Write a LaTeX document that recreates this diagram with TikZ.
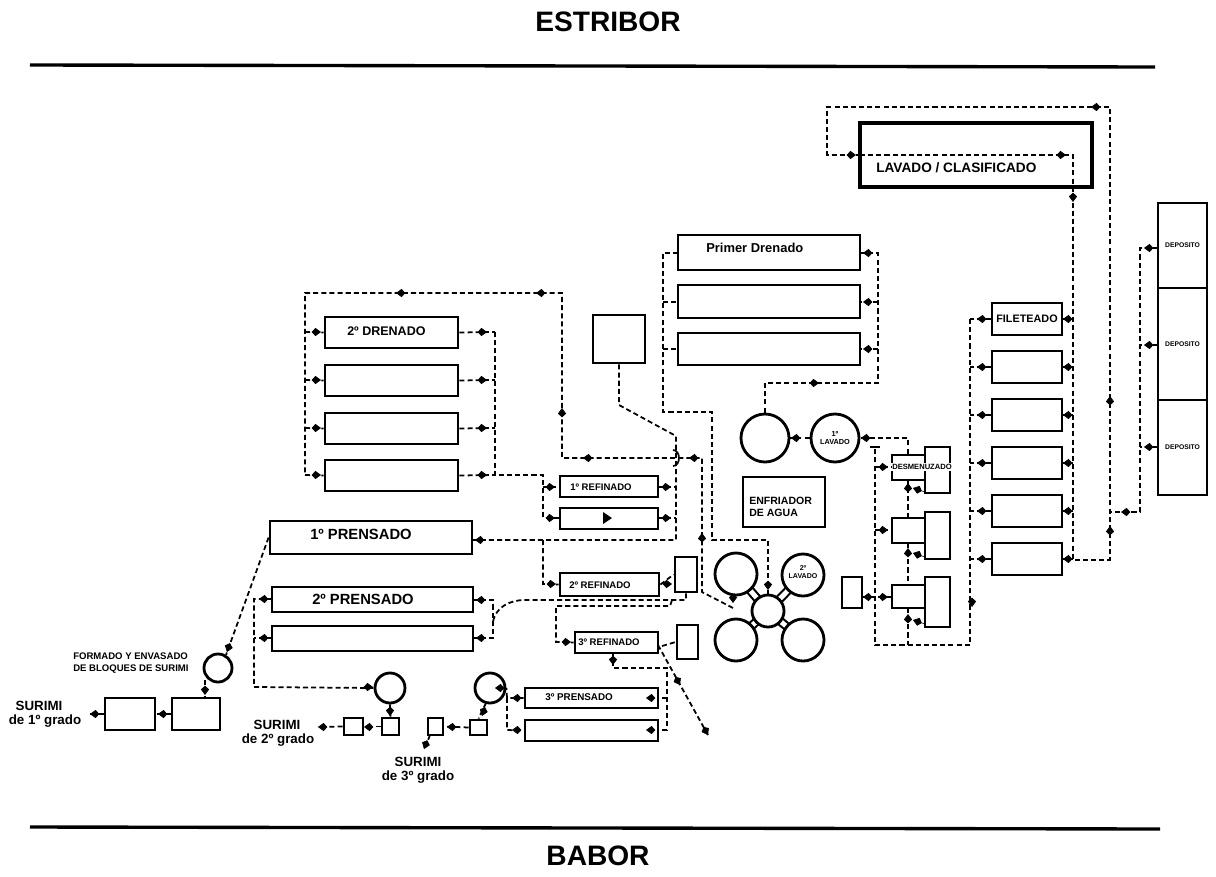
\documentclass[tikz,border=0pt]{standalone}
\usepackage{fontspec}
\setmainfont{Liberation Sans}
\usetikzlibrary{arrows.meta,fit}

\newcommand{\fs}[1]{\fontsize{#1}{\dimexpr #1pt*6/5\relax}\selectfont}
% small diamond tips set on top of the dashed runs
\newcommand{\tR}[1]{\draw[tip] (#1) ++(-4,0) -- ++(8,0);}
\newcommand{\tL}[1]{\draw[tip] (#1) ++(4,0) -- ++(-8,0);}
\newcommand{\tD}[1]{\draw[tip] (#1) ++(0,-4) -- ++(0,8);}
\newcommand{\tU}[1]{\draw[tip] (#1) ++(0,4) -- ++(0,-8);}

\tikzset{
  box/.style={draw, line width=2pt, inner sep=0pt},
  ring/.style={draw, circle, line width=2pt, inner sep=0pt, fill=white},
  flow/.style={line width=1.25pt, dash pattern=on 3.6pt off 2.2pt},
  tip/.style={-{Kite[length=6.6pt,width=5.8pt,inset=2.6pt]}, solid, line width=0.4pt},
  pipe/.style={line width=1.5pt, double, double distance=3.5pt},
  lbl/.style={inner sep=0pt, font=\bfseries\fs{#1}},
}

\begin{document}
\begin{tikzpicture}[x=0.025cm, y=-0.025cm]
  \useasboundingbox (0,0) rectangle (1216,876);

  % --- deck sides ---
  \node[lbl=20] (estribor) at (608,22) {ESTRIBOR};
  \node[lbl=20] (babor) at (598,856) {BABOR};
  \draw[line width=2.4pt] (30,65) -- (1155,67);
  \draw[line width=2.4pt] (30,827) -- (1160,829);

  % --- lavado / clasificado and its loop ---
  \node[box, line width=2.6pt, fit={(860,123) (1092,187)}] (lav) {};
  \node[lbl=9.7, anchor=west] (lavtxt) at (876,168) {LAVADO / CLASIFICADO};
  \draw[flow] (860,155) -- (1073,155) -- (1073,560) -- (1110,560)
    -- (1110,107) -- (827,107) -- (827,155) -- (860,155);
  \tR{852,155} \tR{1062,155} \tD{1073,198} \tU{1110,400} \tU{1110,530} \tL{1095,107}

  % --- depositos ---
  \node[box, fit={(1158,203) (1207,288)}] (dep1) {};
  \node[box, fit={(1158,288) (1207,400)}] (dep2) {};
  \node[box, fit={(1158,400) (1207,495)}] (dep3) {};
  \foreach \d in {dep1,dep2,dep3}
    \node[lbl=4.8] at (\d) {DEPOSITO};
  \draw[flow] (1158,248) -- (1140,248) -- (1140,512) -- (1110,512);
  \draw[flow] (1158,345) -- (1140,345);
  \draw[flow] (1158,447) -- (1140,447);
  \tL{1148,248} \tL{1148,345} \tL{1148,447} \tL{1125,512}

  % --- fileteado ---
  \foreach \i in {1,...,6} {
    \pgfmathsetmacro{\yc}{319+48*(\i-1)}
    \node[box, fit={(992,\yc-16) (1062,\yc+16)}] (fil\i) {};
    \draw[flow] (fil\i.east) -- (1073,\yc);
    \draw[flow] (fil\i.west) -- (970,\yc);
    \tL{1067,\yc} \tL{981,\yc}
  }
  \node[lbl=7.7] at (fil1) {FILETEADO};
  \draw[flow] (970,319) -- (970,645) -- (875,645) -- (875,447);
  \draw[line width=1.2pt] (870,447) -- (880,447);
  \tD{972,603}

  % --- desmenuzado ---
  \node[box, fit={(892,455) (925,480)}] (des1) {};
  \node[box, fit={(925,447) (950,493)}] (tank1) {};
  \node[box, fit={(892,518) (925,543)}] (des2) {};
  \node[box, fit={(925,512) (950,559)}] (tank2) {};
  \node[box, fit={(892,585) (925,608)}] (des3) {};
  \node[box, fit={(925,577) (950,627)}] (tank3) {};
  \node[lbl=5.4, fill=white, inner sep=0.6pt] at (922,467) {DESMENUZADO};
  \node[box, fit={(842,577) (862,608)}] (sbd) {};
  \draw[flow] (875,467) -- (892,467);
  \draw[flow] (875,530) -- (892,530);
  \draw[flow] (862,597) -- (892,597);
  \tR{884,467} \tR{884,530} \tR{884,597} \tL{867,597}
  \draw[flow] (908,480) -- (908,518);
  \draw[flow] (908,543) -- (908,585);
  \draw[flow] (908,608) -- (908,645);
  \tU{908,487} \tU{908,552} \tU{908,618}
  \draw[tip] (925,492) -- (913,488);
  \draw[tip] (925,557) -- (913,553);
  \draw[tip] (925,624) -- (913,620);

  % --- lavados and primer drenado ---
  \node[ring, minimum size=1.2cm] (lv1) at (835,438) {};
  \node[lbl=5.2, align=center] at (835,438) {1º\\LAVADO};
  \node[ring, minimum size=1.2cm] (lv0) at (765,438) {};
  \draw[flow] (des1.north -| 908,0) -- (908,438) -- (lv1.east);
  \tL{865,438}
  \draw[flow] (lv1.west) -- (lv0.east);
  \tL{795,438}
  \node[box, fit={(678,235) (860,270)}] (pd1) {};
  \node[box, fit={(678,285) (860,318)}] (pd2) {};
  \node[box, fit={(678,333) (860,365)}] (pd3) {};
  \node[lbl=9.2, anchor=west] at (706,248) {Primer Drenado};
  \draw[flow] (lv0.north) -- (765,383) -- (878,383) -- (878,253) -- (860,253);
  \draw[flow] (878,302) -- (860,302);
  \draw[flow] (878,349) -- (860,349);
  \tR{815,383} \tL{867,253} \tL{867,302} \tL{867,349}

  % --- enfriador and central cluster ---
  \node[box, fit={(743,477) (825,527)}] (enf) {};
  \node[lbl=7.5, anchor=west, align=left] at (749,507) {ENFRIADOR\\DE AGUA};
  \foreach \p in {(736,574),(736,640),(803,640),(803,575)}
    \draw[pipe] (768,611) -- \p;
  \node[ring, minimum size=0.8cm] (hub) at (768,611) {};
  \node[ring, minimum size=1.05cm] (ca) at (736,574) {};
  \node[ring, minimum size=1.05cm] (cb) at (736,640) {};
  \node[ring, minimum size=1.05cm] (cc) at (803,640) {};
  \node[ring, minimum size=1.05cm] (cd) at (803,575) {};
  \node[lbl=5, align=center] at (803,572) {2º\\LAVADO};
  \draw[flow] (678,253) -- (663,253) -- (663,412) -- (712,412) -- (712,540)
    -- (768,540) -- (hub.north);
  \draw[flow] (663,302) -- (678,302);
  \draw[flow] (663,349) -- (678,349);
  \tD{768,586}

  % --- segundo drenado ---
  \foreach \n/\yc in {1/332, 2/380, 3/428, 4/475} {
    \node[box, fit={(325,\yc-15) (458,\yc+16)}] (dd\n) {};
    \draw[flow] (305,\yc) -- (dd\n.west);
    \draw[flow] (dd\n.east) -- (495,\yc);
    \tR{317,\yc} \tR{483,\yc}
  }
  \node[lbl=8.9, anchor=west] at (347,331) {2º DRENADO};
  \draw[flow] (733,608) -- (702,592) -- (702,458) -- (562,458) -- (562,293)
    -- (305,293) -- (305,475);
  \tU{702,537} \tL{693,458} \tL{587,458} \tU{562,412} \tL{540,293} \tL{400,293}
  \tD{733,599}
  \draw[flow] (495,332) -- (495,475) -- (543,475) -- (543,518) -- (560,518);
  \draw[flow] (543,487) -- (560,487);
  \tR{551,487} \tR{551,518}

  % --- refinados ---
  \node[box, fit={(593,315) (645,363)}] (tank) {};
  \node[box, fit={(560,476) (658,497)}] (rf1) {};
  \node[lbl=6.8, anchor=west] at (570,487) {1º REFINADO};
  \node[box, fit={(560,508) (658,529)}] (rf1b) {};
  \fill (603,512) -- (612,518) -- (603,524) -- cycle;
  \node[box, fit={(560,573) (659,596)}] (rf2) {};
  \node[lbl=6.8, anchor=west] at (569,585) {2º REFINADO};
  \node[box, fit={(575,632) (658,653)}] (rf3) {};
  \node[lbl=6.8, anchor=west] at (578,642) {3º REFINADO};
  \node[box, fit={(675,557) (697,592)}] (sb2) {};
  \node[box, fit={(677,625) (698,659)}] (sb3) {};
  \draw[flow] (tank.south) -- (619,405) -- (676,436) -- (676,540) -- (472,540);
  \draw[line width=1.2pt] (673,450) to[out=0,in=90] (679,458) to[out=-90,in=0] (673,466);
  \draw[flow] (658,487) -- (676,487);
  \draw[flow] (658,518) -- (676,518);
  \tR{667,487} \tR{667,518} \tL{479,540}
  \draw[flow] (543,540) -- (543,584) -- (rf2.west);
  \tR{552,584}
  \draw[flow] (rf2.east) -- (sb2.west);
  \tR{668,584}

  % --- prensados ---
  \node[box, fit={(270,521) (472,554)}] (p1) {};
  \node[lbl=10.5, anchor=west] at (310,534) {1º PRENSADO};
  \node[box, fit={(272,587) (473,612)}] (p2a) {};
  \node[lbl=10.5, anchor=west] at (312,599) {2º PRENSADO};
  \node[box, fit={(272,626) (473,651)}] (p2b) {};
  \draw[flow] (sb2.south) -- (686,600) -- (525,600) to[out=180,in=80] (493,622);
  \draw[flow] (473,600) -- (493,600) -- (493,638) -- (473,638);
  \tL{480,600} \tL{480,638}
  \draw[flow] (672,600) -- (670,606) -- (556,606) -- (556,642) -- (rf3.west);
  \tR{567,642}
  \node[box, fit={(525,688) (658,708)}] (p3a) {};
  \node[lbl=7, anchor=west] at (545,697) {3º PRENSADO};
  \node[box, fit={(525,720) (658,741)}] (p3b) {};
  \draw[flow] (613,653) -- (613,668) -- (667,668) -- (667,730) -- (658,730);
  \draw[flow] (667,698) -- (658,698);
  \tD{613,661} \tL{650,698} \tL{650,730}
  \draw[flow] (658,645) -- (708,735);
  \draw[tip] (675,676) -- (680,685);
  \draw[tip] (703,726) -- (708,735);
  \draw[flow] (662,646) -- (sb3.west);

  % --- surimi de 1er grado ---
  \node[ring, minimum size=0.7cm] (c1) at (218,668) {};
  \node[box, fit={(172,698) (220,730)}] (s1a) {};
  \node[box, fit={(105,698) (155,730)}] (s1b) {};
  \node[lbl=6.8, anchor=west, align=left] at (73,663) {FORMADO Y ENVASADO\\DE BLOQUES DE SURIMI};
  \draw[flow] (p1.west) -- (226,655);
  \draw[tip] (230,643) -- (227,652);
  \draw[flow] (205,680) -- (205,698);
  \tD{205,691}
  \draw[flow] (s1a.west) -- (s1b.east);
  \tL{162,714}
  \draw[flow] (s1b.west) -- (88,714);
  \tL{94,714}
  \node[lbl=9.5] at (39,706) {SURIMI};
  \node[lbl=9.5] at (45,721) {de 1º grado};

  % --- surimi de 2o grado ---
  \node[ring, minimum size=0.75cm] (c2) at (390,688) {};
  \node[box, fit={(382,718) (399,735)}] (s2a) {};
  \node[box, fit={(344,718) (363,735)}] (s2b) {};
  \draw[flow] (272,599) -- (254,599) -- (254,687) -- (c2.west);
  \draw[flow] (272,638) -- (254,638);
  \tL{263,599} \tL{263,638} \tR{369,687}
  \draw[flow] (c2.south) -- (s2a.north);
  \tD{390,712}
  \draw[flow] (s2a.west) -- (s2b.east);
  \tL{368,727}
  \draw[flow] (s2b.west) -- (318,727);
  \tL{322,727}
  \node[lbl=9.5] at (277,725) {SURIMI};
  \node[lbl=9.5] at (278,740) {de 2º grado};

  % --- surimi de 3er grado ---
  \node[ring, minimum size=0.75cm] (c3) at (490,688) {};
  \node[box, fit={(470,720) (487,735)}] (s3a) {};
  \node[box, fit={(428,718) (443,735)}] (s3b) {};
  \draw[flow] (p3a.west) -- (507,698) -- (507,730) -- (p3b.west);
  \draw[flow] (507,698) -- (c3.east);
  \tL{516,698} \tL{516,730} \tL{499,688}
  \draw[flow] (486,703) -- (s3a.north);
  \draw[tip] (485,707) -- (482,716);
  \draw[flow] (s3a.west) -- (s3b.east);
  \tL{451,727}
  \draw[flow] (430,735) -- (425,748);
  \draw[tip] (427,741) -- (424,749);
  \node[lbl=9.5] at (418,762) {SURIMI};
  \node[lbl=9.5] at (418,777) {de 3º grado};
\end{tikzpicture}
\end{document}
